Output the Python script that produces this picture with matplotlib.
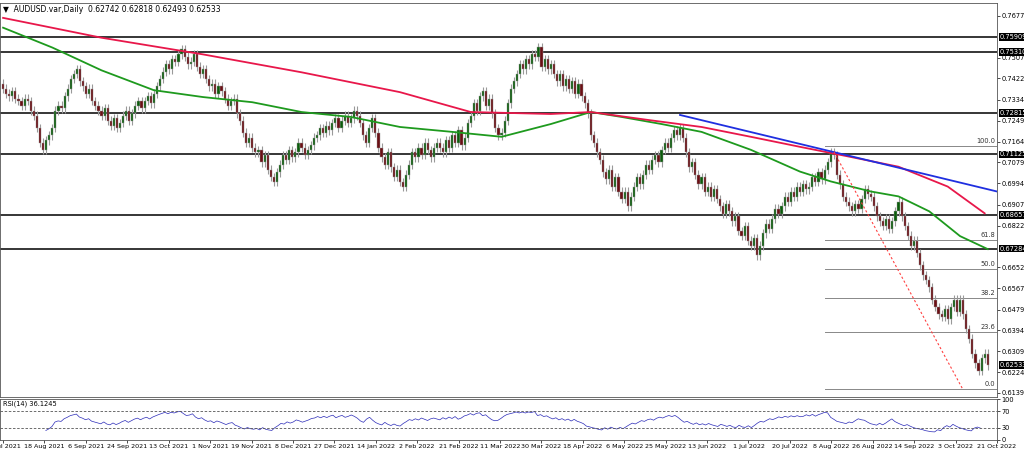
import matplotlib
matplotlib.use("Agg")
import matplotlib.pyplot as plt
import numpy as np

closes = [0.738,0.736,0.735,0.737,0.734,0.733,0.731,0.734,0.733,0.729,0.727,0.722,0.716,0.713,
0.717,0.719,0.722,0.729,0.731,0.730,0.735,0.738,0.742,0.744,0.746,
0.741,0.739,0.736,0.738,0.733,0.731,0.729,0.727,0.730,0.725,0.723,0.726,0.722,0.724,
0.727,0.729,0.725,0.728,0.731,0.733,0.730,0.733,0.735,0.732,
0.736,0.739,0.742,0.745,0.748,0.746,0.750,0.749,0.752,0.754,0.751,0.748,0.749,0.752,
0.747,0.744,0.746,0.742,0.739,0.740,0.736,0.739,0.737,0.734,0.731,0.733,0.734,
0.728,0.725,0.720,0.716,0.718,0.714,0.712,0.713,0.708,0.711,0.705,0.702,0.700,
0.704,0.707,0.711,0.709,0.713,0.710,0.712,0.716,0.714,0.711,0.713,0.715,
0.718,0.719,0.722,0.720,0.723,0.721,0.724,0.726,0.722,0.725,0.727,0.724,
0.726,0.729,0.727,0.724,0.719,0.716,0.722,0.726,
0.720,0.714,0.710,0.707,0.712,0.706,0.702,0.705,0.700,0.698,
0.703,0.707,0.712,0.710,0.714,0.711,0.716,0.713,0.710,0.714,0.716,0.714,
0.712,0.717,0.714,0.719,0.716,0.721,0.715,0.718,
0.724,0.727,0.732,0.729,0.735,0.737,0.731,0.734,
0.728,0.722,0.719,0.720,
0.725,0.732,0.738,0.741,0.744,0.748,0.746,0.750,0.748,0.752,0.751,
0.755,0.747,0.750,0.746,0.748,
0.744,0.741,0.744,0.739,0.742,0.738,0.741,0.736,0.740,0.735,0.732,0.728,
0.719,0.716,0.712,0.709,0.704,0.701,0.705,0.698,0.702,0.696,0.693,0.696,0.690,
0.694,0.698,0.702,0.699,0.703,0.707,0.705,0.709,0.711,0.708,0.713,0.716,0.714,0.718,0.721,0.719,0.722,
0.718,0.712,0.706,0.708,0.703,0.699,0.702,0.696,0.698,0.694,
0.697,0.693,0.690,0.687,0.691,0.688,0.684,0.686,0.680,0.678,0.682,0.676,0.674,0.677,0.670,
0.674,0.679,0.683,0.681,0.685,0.689,0.687,0.690,0.694,0.692,0.696,0.694,0.698,0.696,0.699,0.697,0.698,
0.702,0.700,0.704,0.701,0.705,0.708,0.712,0.711,
0.703,0.699,0.694,0.692,0.690,0.688,
0.691,0.689,0.693,0.697,0.695,0.694,
0.690,0.686,0.684,0.682,0.685,0.681,0.684,0.688,0.692,0.686,
0.682,0.678,0.674,0.676,0.671,0.666,0.662,0.660,0.657,0.652,0.649,0.646,0.645,
0.648,0.644,0.649,0.652,0.647,0.652,
0.646,0.640,0.636,0.630,0.626,0.623,0.628,0.630,0.6253]
first_open = 0.740

ma100_x = [0,16,32,49,65,81,97,113,129,146,162,178,191,201,214,227,243,259,269,282,291,301,311,320]
ma100_y = [0.7629,0.7548,0.7455,0.7374,0.7346,0.7325,0.7285,0.7265,0.7224,0.7204,0.7184,0.7236,0.7285,
           0.7265,0.7236,0.7204,0.7131,0.7042,0.7002,0.6961,0.6941,0.6880,0.6779,0.6726]
ma200_x = [0,32,65,97,129,152,178,191,210,227,243,259,275,291,307,319]
ma200_y = [0.7669,0.7588,0.7520,0.7447,0.7366,0.7285,0.7277,0.7285,0.7252,0.7224,0.7184,0.7143,0.7103,
           0.7062,0.6981,0.6872]
trend_x = [220, 323]; trend_y = [0.7273, 0.6961]
dash_x = [270, 312]; dash_y = [0.7123, 0.6152]
levels = [0.75909, 0.75310, 0.72815, 0.71125, 0.68657, 0.67284]
fib_vals = [0.7147, 0.6763, 0.6645, 0.6528, 0.6387, 0.6156]
fib_labels = ["100.0", "61.8", "50.0", "38.2", "23.6", "0.0"]
fib_start = 267
yticks = [0.76770, 0.75070, 0.74220, 0.73345, 0.72495, 0.71645, 0.70795, 0.69945, 0.69070, 0.68220,
          0.66520, 0.65670, 0.64795, 0.63945, 0.63095, 0.62245, 0.61395]
xlabels = ["30 Jul 2021","18 Aug 2021","6 Sep 2021","24 Sep 2021","13 Oct 2021","1 Nov 2021","19 Nov 2021",
           "8 Dec 2021","27 Dec 2021","14 Jan 2022","2 Feb 2022","21 Feb 2022","11 Mar 2022","30 Mar 2022",
           "18 Apr 2022","6 May 2022","25 May 2022","13 Jun 2022","1 Jul 2022","20 Jul 2022","8 Aug 2022",
           "26 Aug 2022","14 Sep 2022","3 Oct 2022","21 Oct 2022"]

c = np.array(closes)
o = np.concatenate([[first_open], c[:-1]])
n = len(c)
x = np.arange(n)
hi = np.maximum(o, c) + 0.0018
lo = np.minimum(o, c) - 0.0018

FS = 4.8
fig = plt.figure(figsize=(10.24, 4.54), dpi=100)
ax = fig.add_axes([0.0, 0.1256, 0.9736, 0.868])
ax2 = fig.add_axes([0.0, 0.031, 0.9736, 0.09])

for a in (ax, ax2):
    a.yaxis.tick_right()
    a.tick_params(axis='both', labelsize=FS, length=2, pad=1, width=0.5)
    for s in a.spines.values():
        s.set_color('#555555'); s.set_linewidth(0.6)

for lv in levels:
    ax.axhline(lv, color='black', lw=1.1, zorder=1)
for fv, fl in zip(fib_vals, fib_labels):
    ax.plot([fib_start, n + 2], [fv, fv], color='#888888', lw=0.7, zorder=1)
    ax.text(n + 1.5, fv + 0.0008, fl, fontsize=FS, ha='right', va='bottom', color='#333333')

ax.vlines(x, lo, hi, color='#999999', lw=0.8, zorder=2)
up = c >= o
ax.bar(x[up], (c - o)[up], bottom=o[up], width=0.7, color='#0b5d0b', edgecolor='#999999', lw=0.3, zorder=3)
ax.bar(x[~up], (o - c)[~up], bottom=c[~up], width=0.7, color='#6b0f14', edgecolor='#999999', lw=0.3, zorder=3)

ax.plot(ma100_x, ma100_y, color='#1e9a1e', lw=1.3, zorder=4)
ax.plot(ma200_x, ma200_y, color='#e8174a', lw=1.3, zorder=4)
ax.plot(trend_x, trend_y, color='#1f2fe0', lw=1.3, zorder=4)
ax.plot(dash_x, dash_y, color='#ff4040', lw=0.8, ls=(0, (2, 2)), zorder=4)

ax.set_xlim(-1, 323)
ax.set_ylim(0.6123, 0.7730)
ax.set_yticks(yticks)
ax.set_yticklabels([f"{v:.5f}" for v in yticks])
ax.set_xticks([])
for lv in levels + [0.62533]:
    ax.text(1.003, lv, f"{lv:.5f}", transform=ax.get_yaxis_transform(), fontsize=FS, color='white',
            va='center', ha='left', bbox=dict(boxstyle='square,pad=0.12', fc='black', ec='none'), zorder=10)
ax.text(0.003, 0.995, "\u25bc  AUDUSD.var,Daily  0.62742 0.62818 0.62493 0.62533", transform=ax.transAxes,
        fontsize=5.5, va='top', ha='left')

# RSI(14)
d = np.diff(c)
g = np.where(d > 0, d, 0); l = np.where(d < 0, -d, 0)
ag = np.zeros(n); al = np.zeros(n)
ag[14] = g[:14].mean(); al[14] = l[:14].mean()
for i in range(15, n):
    ag[i] = (ag[i-1]*13 + g[i-1]) / 14
    al[i] = (al[i-1]*13 + l[i-1]) / 14
rsi = 100 - 100 / (1 + ag[14:] / np.maximum(al[14:], 1e-9))
ax2.plot(x[14:], rsi, color='#2b2bb8', lw=0.5)
ax2.axhline(70, color='#555555', lw=0.6, ls=(0, (3, 2)))
ax2.axhline(30, color='#555555', lw=0.6, ls=(0, (3, 2)))
ax2.set_xlim(-1, 323); ax2.set_ylim(0, 100)
ax2.set_yticks([0, 30, 70, 100])
ax2.text(0.003, 0.97, "RSI(14) 36.1245", transform=ax2.transAxes, fontsize=FS, va='top')
step = 320 / 23.6
ax2.set_xticks([k * step for k in range(len(xlabels))])
ax2.set_xticklabels(xlabels, fontsize=4.6)
fig.savefig("out.png", dpi=100, facecolor='white')
